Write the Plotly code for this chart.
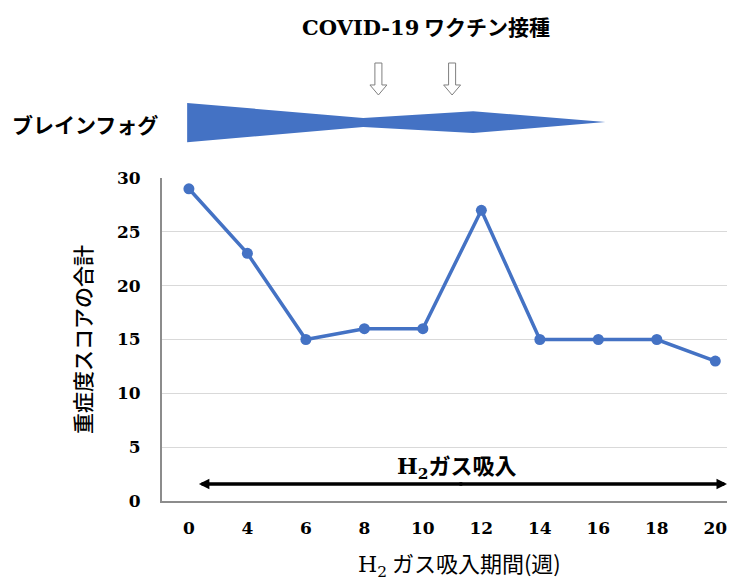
import plotly.graph_objects as go

weeks = ["0", "4", "6", "8", "10", "12", "14", "16", "18", "20"]
scores = [29, 23, 15, 16, 16, 27, 15, 15, 15, 13]
y_ticks = [0, 5, 10, 15, 20, 25, 30]

xi = list(range(len(weeks)))
BLUE = "#4472C4"
SERIF = "DejaVu Serif"
JP = "Noto Sans CJK JP"

fig = go.Figure()
fig.add_trace(go.Scatter(
    x=xi, y=scores, mode="lines+markers",
    line=dict(color=BLUE, width=3.5),
    marker=dict(color=BLUE, size=11),
    showlegend=False, hoverinfo="skip",
))

shapes = []
# Brain fog wedge (x in data index units, y in paper units)
fog = "M -0.03,1.232 L 2.98,1.186 L 4.86,1.207 L 7.12,1.173 L 4.86,1.139 L 2.98,1.158 L -0.03,1.111 Z"
shapes.append(dict(type="path", xref="x", yref="paper", path=fog,
                   fillcolor=BLUE, line=dict(width=0)))

def down_arrow(c):
    return (f"M {c-0.06},1.356 L {c+0.06},1.356 L {c+0.06},1.288 L {c+0.145},1.288 "
            f"L {c},1.257 L {c-0.145},1.288 L {c-0.06},1.288 Z")

for c in (3.24, 4.50):
    shapes.append(dict(type="path", xref="x", yref="paper", path=down_arrow(c),
                       fillcolor="white", line=dict(color="#7f7f7f", width=1)))

annotations = [
    dict(text=f"<span style='font-family:{SERIF}'>COVID-19</span> ワクチン接種",
         xref="paper", yref="paper", x=0.467, y=1.47, xanchor="center", yanchor="middle",
         showarrow=False, font=dict(family=JP, size=21, color="black", weight="bold")),
    dict(text="ブレインフォグ", xref="paper", yref="paper", x=-0.136, y=1.167,
         xanchor="center", yanchor="middle", showarrow=False,
         font=dict(family=JP, size=21, color="black", weight="bold")),
    dict(text=f"<span style='font-family:{SERIF}'>H<sub>2</sub></span>ガス吸入",
         xref="paper", yref="paper", x=0.522, y=0.11, xanchor="center", yanchor="middle",
         showarrow=False, font=dict(family=JP, size=22, color="black", weight="bold")),
    # double-headed arrow for H2 inhalation period
    dict(x=0.17, y=1.58, ax=4.7, ay=1.58, xref="x", yref="y", axref="x", ayref="y",
         text="", showarrow=True, arrowhead=2, arrowsize=0.6, arrowwidth=3.5, arrowcolor="black",
         standoff=0),
    dict(x=9.2, y=1.58, ax=4.6, ay=1.58, xref="x", yref="y", axref="x", ayref="y",
         text="", showarrow=True, arrowhead=2, arrowsize=0.6, arrowwidth=3.5, arrowcolor="black",
         standoff=0),
    dict(text=f"<span style='font-family:{SERIF}'>H<sub>2</sub></span> ガス吸入期間(週)",
         xref="paper", yref="paper", x=0.527, y=-0.192, xanchor="center", yanchor="middle",
         showarrow=False, font=dict(family=JP, size=22, color="black")),
]

fig.update_layout(
    width=729, height=581,
    margin=dict(l=162, r=2, t=178, b=80),
    paper_bgcolor="white", plot_bgcolor="white",
    shapes=shapes, annotations=annotations,
    xaxis=dict(
        range=[-0.46, 9.2], tickvals=xi, ticktext=weeks,
        showgrid=False, zeroline=False,
        showline=True, linecolor="#8c8c8c", linewidth=2,
        ticks="", ticklabelstandoff=11,
        tickfont=dict(family=SERIF, size=17, color="black", weight="bold"),
    ),
    yaxis=dict(
        range=[0, 30], tickvals=y_ticks,
        showgrid=True, gridcolor="#d9d9d9", gridwidth=1,
        zeroline=False, showline=True, linecolor="#8c8c8c", linewidth=2,
        ticks="", ticklabelstandoff=16,
        tickfont=dict(family=SERIF, size=17, color="black", weight="bold"),
        title=dict(text="重症度スコアの合計", standoff=20,
                   font=dict(family=JP, size=21, color="black", weight=500)),
    ),
)

fig.write_html(
    "out.html",
    config={"displayModeBar": False},
    post_script="document.body.style.margin='0';document.body.style.overflow='hidden';",
)
